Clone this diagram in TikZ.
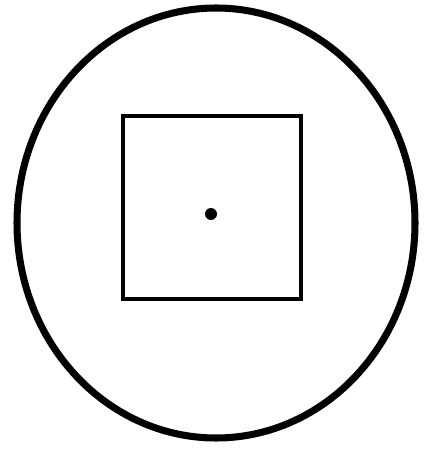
\documentclass[tikz,border=0pt]{standalone}
\usepackage{tikz}
\usetikzlibrary{positioning}

\begin{document}
\begin{tikzpicture}[x=0.02cm, y=-0.02cm,
    rim/.style={draw, line width=4pt},
    plate/.style={draw, line width=2pt},
    hole/.style={fill, circle, inner sep=0pt, minimum size=0.24cm}]
    \useasboundingbox (0,0) rectangle (433,449);

    % outer ring
    \draw[rim] (216,223) ellipse [x radius=199, y radius=215];
    % inner square
    \draw[plate] (123,116) rectangle (301,299);
    \node[hole] (c) at (211,214) {};
\end{tikzpicture}
\end{document}
